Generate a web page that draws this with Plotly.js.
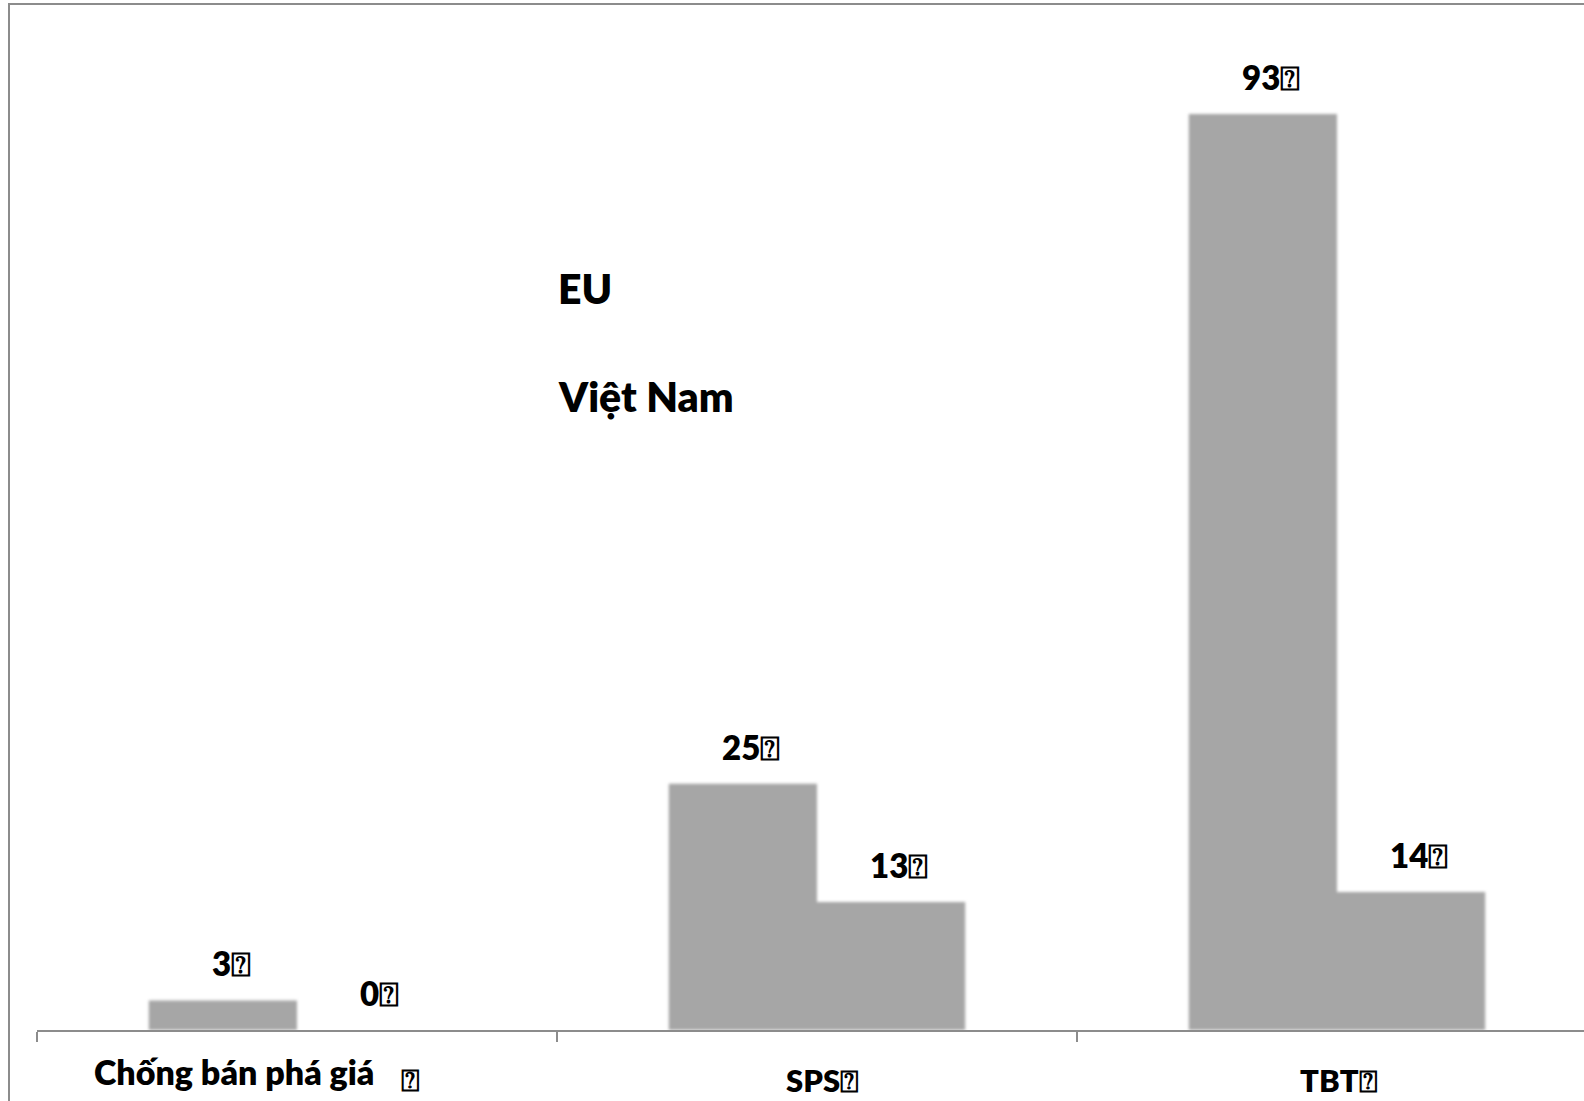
<!DOCTYPE html>
<html>
<head>
<meta charset="utf-8">
<script src="https://cdn.plot.ly/plotly-3.0.1.min.js"></script>
<style>
  html, body { margin: 0; padding: 0; overflow: hidden; background: #fff; }
  #chart { position: absolute; left: 0; top: 0; }
  #frame {
    position: absolute; left: 8px; top: 3px; width: 1620px; height: 1140px;
    border: 2px solid #8c8c8c; pointer-events: none; box-sizing: border-box;
  }
  .barlayer { filter: blur(1.8px); }
</style>
</head>
<body>
<div id="chart"></div>
<div id="frame"></div>
<script>
// Number of measures by type
const categories = ["Chống bán phá giá", "SPS", "TBT"];
const euValues = [3, 25, 93];
const vnValues = [0, 13, 14];
const seriesNames = ["EU", "Việt Nam"];
const mark = "⍰";

const barColor = "#a6a6a6";
const fontFamily = "Lato, 'Open Sans', 'Noto Sans', sans-serif";

const traces = [
  { type: "bar", name: seriesNames[0], x: categories, y: euValues,
    marker: { color: barColor }, hoverinfo: "none" },
  { type: "bar", name: seriesNames[1], x: categories, y: vnValues,
    marker: { color: barColor }, hoverinfo: "none" }
];

const halfBar = 74;
const annotations = [];
const valFont = { family: fontFamily, size: 33, color: "#000", weight: 800 };

// value labels above each bar
categories.forEach((c, i) => {
  annotations.push({ x: c, y: euValues[i], xref: "x", yref: "y",
    text: euValues[i] + mark, showarrow: false, xshift: -halfBar + 8,
    yanchor: "bottom", yshift: 15, font: valFont });
  annotations.push({ x: c, y: vnValues[i], xref: "x", yref: "y",
    text: vnValues[i] + mark, showarrow: false, xshift: halfBar + 8,
    yanchor: "bottom", yshift: 15, font: valFont });
});

// category labels under the axis
const catFont = { family: fontFamily, size: 34, color: "#000", weight: 800 };
const catFontSmall = { family: fontFamily, size: 31, color: "#000", weight: 800 };
annotations.push({ x: categories[0], y: 0, xref: "x", yref: "y", text: categories[0],
  showarrow: false, xshift: -63, yanchor: "middle", yshift: -41, font: catFont });
annotations.push({ x: categories[0], y: 0, xref: "x", yref: "y", text: mark,
  showarrow: false, xshift: 113, yanchor: "middle", yshift: -49, font: catFontSmall });
annotations.push({ x: categories[1], y: 0, xref: "x", yref: "y", text: categories[1] + mark,
  showarrow: false, xshift: 5, yanchor: "middle", yshift: -50, font: catFontSmall });
annotations.push({ x: categories[2], y: 0, xref: "x", yref: "y", text: categories[2] + mark,
  showarrow: false, xshift: 2, yanchor: "middle", yshift: -50, font: catFontSmall });

// series names
const legFont = { family: fontFamily, size: 41, color: "#000", weight: 800 };
annotations.push({ x: 0.333, y: 0.753, xref: "paper", yref: "paper", text: seriesNames[0],
  showarrow: false, xanchor: "left", yanchor: "middle", font: legFont });
annotations.push({ x: 0.333, y: 0.643, xref: "paper", yref: "paper", text: seriesNames[1],
  showarrow: false, xanchor: "left", yanchor: "middle", font: legFont });

const layout = {
  width: 1600, height: 1101,
  margin: { l: 37, r: 3, t: 45, b: 71 },
  paper_bgcolor: "#fff", plot_bgcolor: "#fff",
  showlegend: false,
  barmode: "group", bargap: 0.43, bargroupgap: 0,
  xaxis: {
    type: "category", showticklabels: false, showgrid: false, zeroline: false,
    showline: true, linecolor: "#8c8c8c", linewidth: 2,
    ticks: "outside", tickson: "boundaries", ticklen: 10, tickcolor: "#8c8c8c", tickwidth: 2
  },
  yaxis: { range: [0, 100], visible: false, showgrid: false, zeroline: false },
  annotations: annotations
};

Plotly.newPlot("chart", traces, layout, { staticPlot: true });
</script>
</body>
</html>
